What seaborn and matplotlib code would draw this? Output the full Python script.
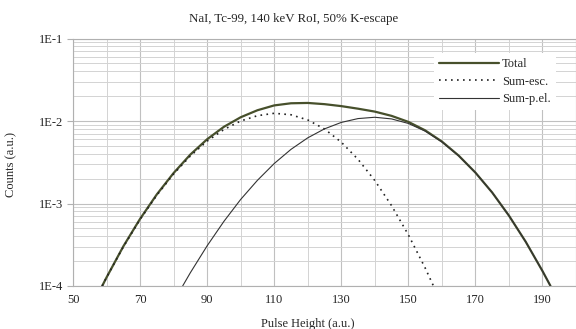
import numpy as np
import pandas as pd
import matplotlib
matplotlib.use("Agg")
import matplotlib.pyplot as plt
from matplotlib.ticker import FixedLocator, FixedFormatter, NullFormatter
import seaborn as sns

# ---- data ----
total_x = [58.7, 60, 65, 70, 75, 80, 85, 90, 95, 100, 105, 110, 115, 120, 125, 130,
           135, 140, 145, 150, 155, 160, 165, 170, 175, 180, 185, 190, 192.4]
total_y = [1.0e-4, 1.27e-4, 3.02e-4, 6.51e-4, 1.29e-3, 2.34e-3, 3.92e-3, 6.01e-3, 8.50e-3,
           1.11e-2, 1.35e-2, 1.545e-2, 1.64e-2, 1.655e-2, 1.60e-2, 1.515e-2, 1.41e-2,
           1.30e-2, 1.154e-2, 9.76e-3, 7.71e-3, 5.64e-3, 3.81e-3, 2.37e-3, 1.36e-3,
           7.13e-4, 3.44e-4, 1.52e-4, 1.0e-4]

esc_x = [58.7, 60, 65, 70, 75, 80, 85, 90, 95, 100, 105, 110, 115, 120, 125, 130,
         135, 140, 145, 150, 155, 157.5]
esc_y = [1.0e-4, 1.27e-4, 2.98e-4, 6.41e-4, 1.26e-3, 2.28e-3, 3.77e-3, 5.70e-3, 7.89e-3,
         1.0e-2, 1.16e-2, 1.24e-2, 1.19e-2, 1.03e-2, 8.0e-3, 5.54e-3, 3.43e-3, 1.90e-3,
         9.42e-4, 4.18e-4, 1.66e-4, 1.0e-4]

pel_x = [82.7, 85, 90, 95, 100, 105, 110, 115, 120, 125, 130, 135, 140, 145, 150, 155,
         160, 165, 170, 175, 180, 185, 190, 192.4]
pel_y = [1.0e-4, 1.45e-4, 3.07e-4, 6.07e-4, 1.12e-3, 1.91e-3, 3.05e-3, 4.53e-3, 6.25e-3,
         8.03e-3, 9.61e-3, 1.07e-2, 1.11e-2, 1.06e-2, 9.34e-3, 7.54e-3, 5.58e-3, 3.79e-3,
         2.37e-3, 1.36e-3, 7.13e-4, 3.44e-4, 1.52e-4, 1.0e-4]

title = "NaI, Tc-99, 140 keV RoI, 50% K-escape"
xlabel = "Pulse Height (a.u.)"
ylabel = "Counts (a.u.)"
x_major = [50, 70, 90, 110, 130, 150, 170, 190]
y_major = [1e-4, 1e-3, 1e-2, 1e-1]
y_labels = ["1E-4", "1E-3", "1E-2", "1E-1"]

# ---- style ----
sns.set_theme(style="white")
plt.rcParams['font.family'] = ['Liberation Serif', 'DejaVu Serif']

fig = plt.figure(figsize=(5.76, 3.29), dpi=100)
W, H = 576, 329
left, right, top, bottom = 73, 576, 38.5, 286
ax = fig.add_axes([left / W, 1 - bottom / H, (right - left) / W, (bottom - top) / H])

df_total = pd.DataFrame({"x": total_x, "y": total_y})
df_esc = pd.DataFrame({"x": esc_x, "y": esc_y})
df_pel = pd.DataFrame({"x": pel_x, "y": pel_y})

sns.lineplot(data=df_total, x="x", y="y", ax=ax, color="#47502c", linewidth=1.6,
             label="Total", sort=False)
sns.lineplot(data=df_esc, x="x", y="y", ax=ax, color="#222222", linewidth=1.2,
             linestyle=(0, (1, 2.6)), label="Sum-esc.", sort=False)
sns.lineplot(data=df_pel, x="x", y="y", ax=ax, color="#333333", linewidth=0.8,
             label="Sum-p.el.", sort=False)

ax.set_yscale("log")
ax.set_xlim(50, 200)
ax.set_ylim(1e-4, 1e-1)

ax.xaxis.set_major_locator(FixedLocator(x_major))
ax.xaxis.set_minor_locator(FixedLocator(list(range(60, 201, 20))))
ax.yaxis.set_major_locator(FixedLocator(y_major))
ax.yaxis.set_major_formatter(FixedFormatter(y_labels))
minor_y = [m * 10.0 ** e for e in (-4, -3, -2) for m in range(2, 10)]
ax.yaxis.set_minor_locator(FixedLocator(minor_y))
ax.yaxis.set_minor_formatter(NullFormatter())

ax.grid(True, which="major", color="#c0c0c0", linewidth=0.8)
ax.grid(True, which="minor", color="#d3d3d3", linewidth=0.7)
ax.set_axisbelow(True)

for s in ax.spines.values():
    s.set_color("#b0b0b0")
    s.set_linewidth(0.8)

ax.tick_params(axis="y", which="major", length=4, color="#b0b0b0", width=0.8,
               labelsize=9, pad=3, left=True)
ax.tick_params(axis="y", which="minor", length=0)
ax.tick_params(axis="x", which="both", length=0, labelsize=9, pad=6)

ax.set_xlabel(xlabel, fontsize=9)
ax.set_ylabel(ylabel, fontsize=9)
ax.xaxis.set_label_coords((307.5 - left) / (right - left), -(323 - bottom) / (bottom - top) + 0.02)
ax.yaxis.set_label_coords(-(left - 17) / (right - left), 0.49)

fig.text(294 / W, 1 - 19 / H, title, ha="center", va="center", fontsize=9.3)

leg = ax.legend(loc="upper right", bbox_to_anchor=(556 / W, 1 - 53 / H),
                bbox_transform=fig.transFigure, frameon=True, fontsize=9,
                handlelength=4.8, handletextpad=0.3, labelspacing=0.45,
                borderpad=0.4, borderaxespad=0)
leg.get_frame().set_facecolor("white")
leg.get_frame().set_edgecolor("none")
leg.get_frame().set_alpha(1)
leg.get_frame().set_boxstyle("square", pad=0)

fig.savefig("out.png", dpi=100)
